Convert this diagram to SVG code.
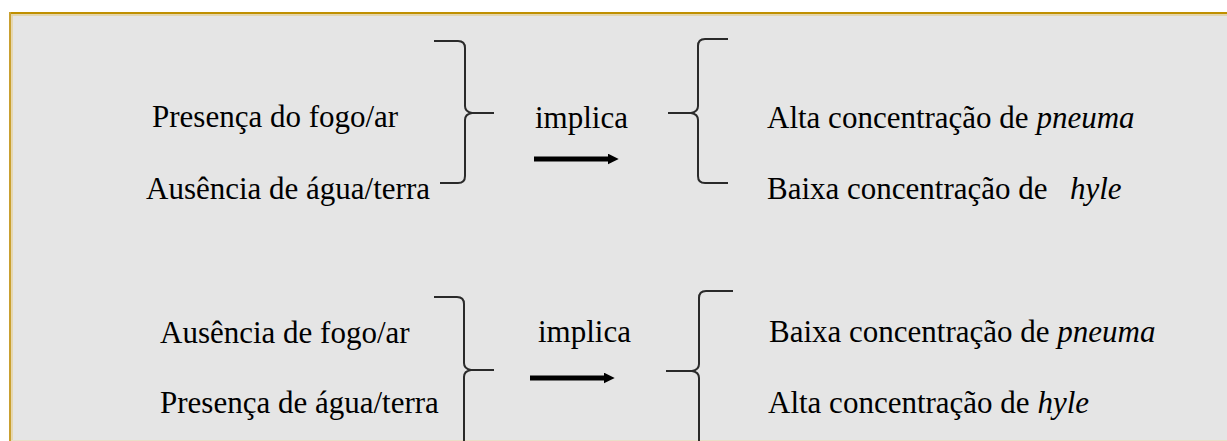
<svg xmlns="http://www.w3.org/2000/svg" width="1227" height="441" viewBox="0 0 1227 441">
  <style>
    .t { font-family: "Liberation Serif", "Times New Roman", serif; font-size: 31px; fill: #000; }
    .i { font-style: italic; }
    .brace { fill: none; stroke: #2a2a2a; stroke-width: 2; stroke-linecap: butt; stroke-linejoin: round; }
    .arrow { stroke: #000; stroke-width: 5; fill: none; }
  </style>
  <defs>
    <marker id="ah" viewBox="0 0 10 10" refX="3" refY="5" markerWidth="2.2" markerHeight="2.2" orient="auto" markerUnits="strokeWidth">
      <path d="M0,0 L10,5 L0,10 Z" fill="#000"/>
    </marker>
  </defs>
  <rect x="0" y="0" width="1227" height="441" fill="#ffffff"/>
  <g id="frame">
    <rect x="10" y="13" width="1230" height="427" fill="#e5e5e5"/>
    <line x1="10" y1="13" x2="1227" y2="13" stroke="#c09000" stroke-width="2"/>
    <line x1="10" y1="15" x2="1227" y2="15" stroke="#e2cf9a" stroke-width="1.5"/>
    <line x1="10" y1="12" x2="10" y2="441" stroke="#c9a030" stroke-width="2"/>
    <line x1="12" y1="15" x2="12" y2="441" stroke="#e6d29c" stroke-width="1.5"/>
    <line x1="12" y1="440.5" x2="1227" y2="440.5" stroke="#e8dfc8" stroke-width="1"/>
  </g>
  <g id="cause1">
    <text class="t" x="152" y="127">Presença do fogo/ar</text>
    <text class="t" x="146" y="199">Ausência de água/terra</text>
  </g>
  <g id="brace1-left">
    <path class="brace" d="M434,41 L458,41 Q465,41 465,48 L465,106 Q465,112 472,113 L494,113 M472,113 Q465,114 465,120 L465,176 Q465,183 458,183 L440,183"/>
  </g>
  <g id="implica1">
    <text class="t" x="535" y="128">implica</text>
  </g>
  <g id="brace1-right">
    <path class="brace" d="M728,39 L705,39 Q698,39 698,46 L698,106 Q698,112 691,113 L668,113 M691,113 Q698,114 698,120 L698,176 Q698,183 705,183 L728,183"/>
  </g>
  <g id="effect1">
    <text class="t" x="767" y="128">Alta concentração de <tspan class="i">pneuma</tspan></text>
    <text class="t" x="767" y="199">Baixa concentração de<tspan class="i" x="1070">hyle</tspan></text>
  </g>
  <g id="cause2">
    <text class="t" x="160" y="343">Ausência de fogo/ar</text>
    <text class="t" x="160" y="413">Presença de água/terra</text>
  </g>
  <g id="brace2-left">
    <path class="brace" d="M434,297 L457,297 Q464,297 464,304 L464,363 Q464,369 471,370 L494,370 M471,370 Q464,371 464,377 L464,445"/>
  </g>
  <g id="implica2">
    <text class="t" x="538" y="342">implica</text>
  </g>
  <g id="brace2-right">
    <path class="brace" d="M733,291 L706,291 Q699,291 699,298 L699,364 Q699,370 692,371 L666,371 M692,371 Q699,372 699,378 L699,445"/>
  </g>
  <g id="effect2">
    <text class="t" x="769" y="342">Baixa concentração de <tspan class="i">pneuma</tspan></text>
    <text class="t" x="768" y="413">Alta concentração de <tspan class="i">hyle</tspan></text>
  </g>
  <g id="connectors">
    <line class="arrow" x1="534" y1="159" x2="611" y2="159" marker-end="url(#ah)"/>
    <line class="arrow" x1="530" y1="378" x2="607" y2="378" marker-end="url(#ah)"/>
  </g>
</svg>
